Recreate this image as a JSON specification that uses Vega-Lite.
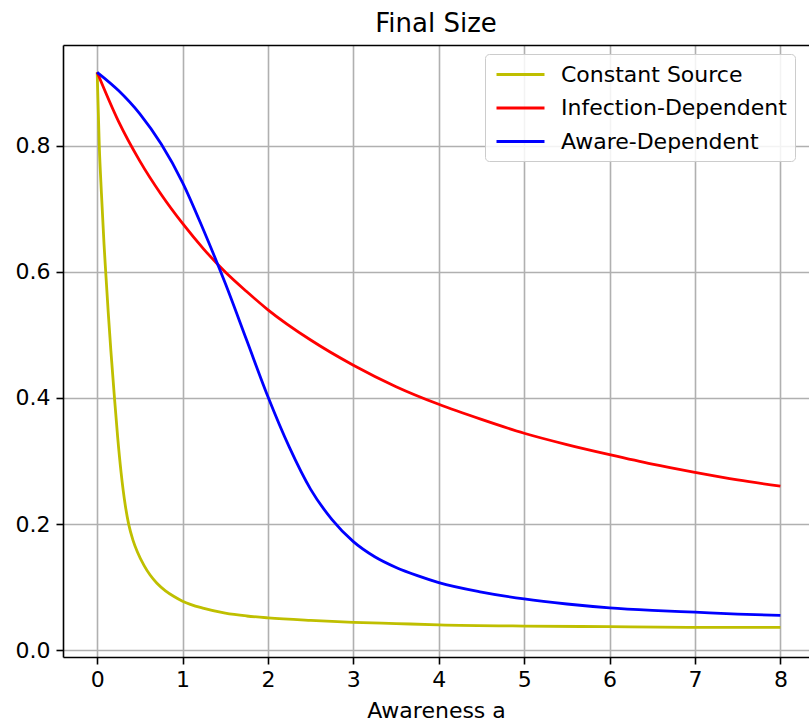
{
  "$schema": "https://vega.github.io/schema/vega-lite/v6.json",
  "autosize": "none",
  "width": 746,
  "height": 612,
  "padding": {"left": 63, "top": 45, "right": 0, "bottom": 67},
  "background": "white",
  "config": {
    "font": "DejaVu Sans",
    "view": {"stroke": null},
    "axis": {
      "labelFont": "DejaVu Sans",
      "titleFont": "DejaVu Sans",
      "labelColor": "black",
      "titleColor": "black",
      "titleFontWeight": "normal",
      "domainColor": "black",
      "domainWidth": 1.6,
      "tickColor": "black",
      "tickWidth": 1.6,
      "tickSize": 7,
      "gridColor": "#b0b0b0",
      "gridWidth": 1.6,
      "gridOpacity": 1
    }
  },
  "title": {
    "text": "Final Size",
    "font": "DejaVu Sans",
    "fontSize": 26,
    "fontWeight": "normal",
    "color": "black",
    "anchor": "middle",
    "offset": 8
  },
  "datasets": {
    "curves": [
      {"a": 0, "f": 0.917, "s": "Constant Source"},
      {"a": 0.025, "f": 0.80, "s": "Constant Source"},
      {"a": 0.05, "f": 0.725, "s": "Constant Source"},
      {"a": 0.08, "f": 0.645, "s": "Constant Source"},
      {"a": 0.10, "f": 0.60, "s": "Constant Source"},
      {"a": 0.13, "f": 0.535, "s": "Constant Source"},
      {"a": 0.16, "f": 0.476, "s": "Constant Source"},
      {"a": 0.20, "f": 0.405, "s": "Constant Source"},
      {"a": 0.24, "f": 0.338, "s": "Constant Source"},
      {"a": 0.28, "f": 0.282, "s": "Constant Source"},
      {"a": 0.33, "f": 0.229, "s": "Constant Source"},
      {"a": 0.37, "f": 0.199, "s": "Constant Source"},
      {"a": 0.42, "f": 0.174, "s": "Constant Source"},
      {"a": 0.47, "f": 0.156, "s": "Constant Source"},
      {"a": 0.55, "f": 0.134, "s": "Constant Source"},
      {"a": 0.62, "f": 0.119, "s": "Constant Source"},
      {"a": 0.70, "f": 0.106, "s": "Constant Source"},
      {"a": 0.80, "f": 0.094, "s": "Constant Source"},
      {"a": 0.90, "f": 0.085, "s": "Constant Source"},
      {"a": 1.0, "f": 0.0775, "s": "Constant Source"},
      {"a": 1.25, "f": 0.066, "s": "Constant Source"},
      {"a": 1.5, "f": 0.0585, "s": "Constant Source"},
      {"a": 1.75, "f": 0.054, "s": "Constant Source"},
      {"a": 2.0, "f": 0.051, "s": "Constant Source"},
      {"a": 2.5, "f": 0.047, "s": "Constant Source"},
      {"a": 3.0, "f": 0.044, "s": "Constant Source"},
      {"a": 3.5, "f": 0.042, "s": "Constant Source"},
      {"a": 4.0, "f": 0.040, "s": "Constant Source"},
      {"a": 5.0, "f": 0.038, "s": "Constant Source"},
      {"a": 6.0, "f": 0.037, "s": "Constant Source"},
      {"a": 7.0, "f": 0.036, "s": "Constant Source"},
      {"a": 8.0, "f": 0.036, "s": "Constant Source"},
      {"a": 0, "f": 0.917, "s": "Infection-Dependent"},
      {"a": 0.25, "f": 0.839, "s": "Infection-Dependent"},
      {"a": 0.5, "f": 0.776, "s": "Infection-Dependent"},
      {"a": 0.75, "f": 0.723, "s": "Infection-Dependent"},
      {"a": 1.0, "f": 0.677, "s": "Infection-Dependent"},
      {"a": 1.25, "f": 0.636, "s": "Infection-Dependent"},
      {"a": 1.5, "f": 0.600, "s": "Infection-Dependent"},
      {"a": 1.75, "f": 0.569, "s": "Infection-Dependent"},
      {"a": 2.0, "f": 0.540, "s": "Infection-Dependent"},
      {"a": 2.5, "f": 0.492, "s": "Infection-Dependent"},
      {"a": 3.0, "f": 0.452, "s": "Infection-Dependent"},
      {"a": 3.5, "f": 0.418, "s": "Infection-Dependent"},
      {"a": 4.0, "f": 0.390, "s": "Infection-Dependent"},
      {"a": 4.5, "f": 0.366, "s": "Infection-Dependent"},
      {"a": 5.0, "f": 0.344, "s": "Infection-Dependent"},
      {"a": 5.5, "f": 0.326, "s": "Infection-Dependent"},
      {"a": 6.0, "f": 0.310, "s": "Infection-Dependent"},
      {"a": 6.5, "f": 0.295, "s": "Infection-Dependent"},
      {"a": 7.0, "f": 0.282, "s": "Infection-Dependent"},
      {"a": 7.5, "f": 0.270, "s": "Infection-Dependent"},
      {"a": 8.0, "f": 0.260, "s": "Infection-Dependent"},
      {"a": 0, "f": 0.917, "s": "Aware-Dependent"},
      {"a": 0.25, "f": 0.888, "s": "Aware-Dependent"},
      {"a": 0.5, "f": 0.851, "s": "Aware-Dependent"},
      {"a": 0.75, "f": 0.803, "s": "Aware-Dependent"},
      {"a": 1.0, "f": 0.742, "s": "Aware-Dependent"},
      {"a": 1.25, "f": 0.665, "s": "Aware-Dependent"},
      {"a": 1.5, "f": 0.582, "s": "Aware-Dependent"},
      {"a": 1.75, "f": 0.492, "s": "Aware-Dependent"},
      {"a": 2.0, "f": 0.402, "s": "Aware-Dependent"},
      {"a": 2.25, "f": 0.322, "s": "Aware-Dependent"},
      {"a": 2.5, "f": 0.255, "s": "Aware-Dependent"},
      {"a": 2.75, "f": 0.207, "s": "Aware-Dependent"},
      {"a": 3.0, "f": 0.172, "s": "Aware-Dependent"},
      {"a": 3.25, "f": 0.148, "s": "Aware-Dependent"},
      {"a": 3.5, "f": 0.131, "s": "Aware-Dependent"},
      {"a": 3.75, "f": 0.118, "s": "Aware-Dependent"},
      {"a": 4.0, "f": 0.107, "s": "Aware-Dependent"},
      {"a": 4.5, "f": 0.092, "s": "Aware-Dependent"},
      {"a": 5.0, "f": 0.081, "s": "Aware-Dependent"},
      {"a": 5.5, "f": 0.073, "s": "Aware-Dependent"},
      {"a": 6.0, "f": 0.067, "s": "Aware-Dependent"},
      {"a": 6.5, "f": 0.063, "s": "Aware-Dependent"},
      {"a": 7.0, "f": 0.060, "s": "Aware-Dependent"},
      {"a": 7.5, "f": 0.057, "s": "Aware-Dependent"},
      {"a": 8.0, "f": 0.055, "s": "Aware-Dependent"}
    ]
  },
  "data": {"name": "curves"},
  "layer": [
    {
      "mark": {"type": "line", "strokeWidth": 2.8, "interpolate": "monotone", "clip": true},
      "encoding": {
        "x": {
          "field": "a", "type": "quantitative",
          "scale": {"domain": [-0.4, 8.335], "nice": false, "zero": false},
          "axis": {
            "orient": "bottom",
            "values": [0, 1, 2, 3, 4, 5, 6, 7, 8],
            "format": "d",
            "labelFontSize": 22,
            "labelPadding": 5,
            "title": "Awareness a",
            "titleFontSize": 22,
            "titlePadding": 10
          }
        },
        "y": {
          "field": "f", "type": "quantitative",
          "scale": {"domain": [-0.0111, 0.9603], "nice": false, "zero": false},
          "axis": {
            "values": [0, 0.2, 0.4, 0.6, 0.8],
            "format": ".1f",
            "labelFontSize": 22,
            "labelPadding": 6,
            "title": null
          }
        },
        "color": {
          "field": "s", "type": "nominal",
          "scale": {
            "domain": ["Constant Source", "Infection-Dependent", "Aware-Dependent"],
            "range": ["#bfbf00", "#ff0000", "#0000ff"]
          },
          "legend": {
            "title": null,
            "orient": "none",
            "legendX": 422,
            "legendY": 9,
            "padding": 8,
            "fillColor": "rgba(255,255,255,0.85)",
            "strokeColor": "#cccccc",
            "cornerRadius": 4,
            "symbolType": "M-0.818,0H3.545",
            "symbolSize": 484,
            "symbolStrokeWidth": 2.8,
            "labelFont": "DejaVu Sans",
            "labelFontSize": 22,
            "labelColor": "black",
            "labelOffset": 43,
            "labelLimit": 400,
            "rowPadding": 9.5
          }
        }
      }
    },
    {
      "mark": {"type": "line", "opacity": 0},
      "encoding": {
        "x": {
          "field": "a", "type": "quantitative",
          "axis": {"orient": "top", "labels": false, "ticks": false, "grid": false, "domain": true, "title": null}
        },
        "y": {"field": "f", "type": "quantitative", "axis": null}
      }
    }
  ],
  "resolve": {"axis": {"x": "independent", "y": "independent"}}
}
